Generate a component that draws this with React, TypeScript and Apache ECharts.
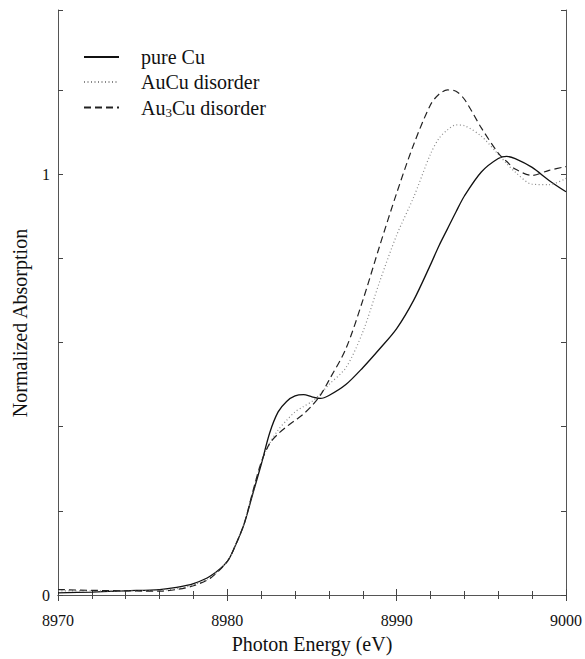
import React, { useEffect, useRef } from "react";
import * as echarts from "echarts";

const energies = [8970, 8972, 8974, 8976, 8977, 8978, 8979, 8980, 8980.5, 8981, 8981.5, 8982, 8982.5, 8983, 8983.5, 8984, 8984.5, 8985, 8985.5, 8986, 8987, 8988, 8989, 8990, 8991, 8992, 8992.5, 8993, 8993.5, 8994, 8995, 8996, 8996.5, 8997, 8998, 8999, 9000];

const pureCu = [0.005, 0.007, 0.010, 0.013, 0.018, 0.027, 0.045, 0.080, 0.12, 0.17, 0.24, 0.31, 0.385, 0.435, 0.46, 0.473, 0.476, 0.471, 0.467, 0.474, 0.50, 0.54, 0.585, 0.633, 0.70, 0.785, 0.83, 0.87, 0.91, 0.948, 1.005, 1.037, 1.042, 1.037, 1.016, 0.985, 0.958];

const auCu = [0.01, 0.01, 0.01, 0.011, 0.015, 0.024, 0.042, 0.08, 0.12, 0.17, 0.245, 0.315, 0.36, 0.392, 0.415, 0.435, 0.448, 0.46, 0.478, 0.50, 0.54, 0.625, 0.745, 0.855, 0.945, 1.048, 1.085, 1.105, 1.117, 1.115, 1.09, 1.047, 1.025, 1.005, 0.976, 0.975, 0.99];

const au3Cu = [0.013, 0.011, 0.010, 0.009, 0.013, 0.022, 0.04, 0.08, 0.12, 0.17, 0.245, 0.315, 0.36, 0.383, 0.40, 0.415, 0.43, 0.45, 0.475, 0.51, 0.585, 0.70, 0.83, 0.955, 1.07, 1.165, 1.19, 1.20, 1.197, 1.178, 1.11, 1.05, 1.03, 1.012, 0.997, 1.009, 1.018];

const seriesNames = ["pure Cu", "AuCu disorder", "Au3Cu disorder"];
const xTickLabels = ["8970", "8980", "8990", "9000"];
const yTickLabels = ["0", "1"];

const FONT = "Liberation Serif";

function pairs(ys: number[]) {
  return energies.map((e, i) => [e, ys[i]]);
}

export default function App() {
  const ref = useRef<HTMLDivElement>(null);
  useEffect(() => {
    if (!ref.current) return;
    const chart = echarts.init(ref.current, null, { renderer: "svg" });
    const axisLine = { show: true, lineStyle: { color: "#555", width: 1 } };
    const baseX = {
      type: "value" as const,
      min: 8970,
      max: 9000,
      interval: 10,
      axisLine,
      axisTick: { show: true, inside: true, length: 6, lineStyle: { color: "#444" } },
      minorTick: { show: true, splitNumber: 5, length: 4, lineStyle: { color: "#444" } },
      splitLine: { show: false },
      minorSplitLine: { show: false },
    };
    const baseY = {
      type: "value" as const,
      min: 0,
      max: 1.39,
      interval: 0.2,
      axisLine,
      axisTick: { show: true, inside: true, length: 5, lineStyle: { color: "#444" } },
      splitLine: { show: false },
    };
    chart.setOption({
      animation: false,
      backgroundColor: "#fff",
      grid: { left: 58, right: 17, top: 10, bottom: 56, containLabel: false },
      legend: {
        orient: "vertical",
        left: 83,
        top: 46,
        padding: 0,
        itemGap: 3,
        itemWidth: 35,
        itemHeight: 14,
        data: seriesNames,
        itemStyle: { opacity: 0 },
        formatter: (name: string) => (name === "Au3Cu disorder" ? "Au{sub|3}Cu disorder" : name),
        textStyle: {
          fontFamily: FONT,
          fontSize: 20,
          color: "#111",
          lineHeight: 22,
          padding: [0, 0, 0, 17],
          rich: {
            sub: { fontFamily: FONT, fontSize: 13, color: "#111", padding: [10, 0, 0, 0], lineHeight: 22 },
          },
        },
      },
      xAxis: [
        {
          ...baseX,
          position: "bottom",
          axisLabel: {
            show: true,
            fontFamily: FONT,
            fontSize: 16,
            color: "#111",
            margin: 17,
            formatter: (v: number) => {
              const s = String(Math.round(v));
              return xTickLabels.includes(s) ? s : "";
            },
          },
          name: "Photon Energy (eV)",
          nameLocation: "middle",
          nameGap: 39,
          nameTextStyle: { fontFamily: FONT, fontSize: 20, color: "#111" },
        },
        { ...baseX, position: "top", axisLabel: { show: false } },
      ],
      yAxis: [
        {
          ...baseY,
          position: "left",
          axisLabel: {
            show: true,
            fontFamily: FONT,
            fontSize: 16,
            color: "#111",
            margin: 8,
            formatter: (v: number) => {
              if (Math.abs(v) < 1e-9) return yTickLabels[0];
              if (Math.abs(v - 1) < 1e-9) return yTickLabels[1];
              return "";
            },
          },
        },
        { ...baseY, position: "right", axisLabel: { show: false } },
      ],
      graphic: [
        {
          type: "text",
          x: 20,
          y: 323,
          rotation: Math.PI / 2,
          style: {
            text: "Normalized Absorption",
            fontFamily: FONT,
            fontSize: 20,
            fill: "#111",
            align: "center",
            verticalAlign: "middle",
          },
        },
      ],
      series: [
        {
          name: seriesNames[0],
          type: "line",
          data: pairs(pureCu),
          smooth: 0.3,
          symbol: "none",
          lineStyle: { color: "#111", width: 1.3, type: "solid" },
          itemStyle: { color: "#111" },
        },
        {
          name: seriesNames[1],
          type: "line",
          data: pairs(auCu),
          smooth: 0.3,
          symbol: "none",
          lineStyle: { color: "#888", width: 1.2, type: [1, 2.5] },
          itemStyle: { color: "#888" },
        },
        {
          name: seriesNames[2],
          type: "line",
          data: pairs(au3Cu),
          smooth: 0.3,
          symbol: "none",
          lineStyle: { color: "#222", width: 1.2, type: [7, 4] },
          itemStyle: { color: "#222" },
        },
      ],
    });
    return () => chart.dispose();
  }, []);
  return (
    <div
      ref={ref}
      style={{ position: "fixed", left: 0, top: 0, width: 585, height: 659, background: "#fff" }}
    />
  );
}
